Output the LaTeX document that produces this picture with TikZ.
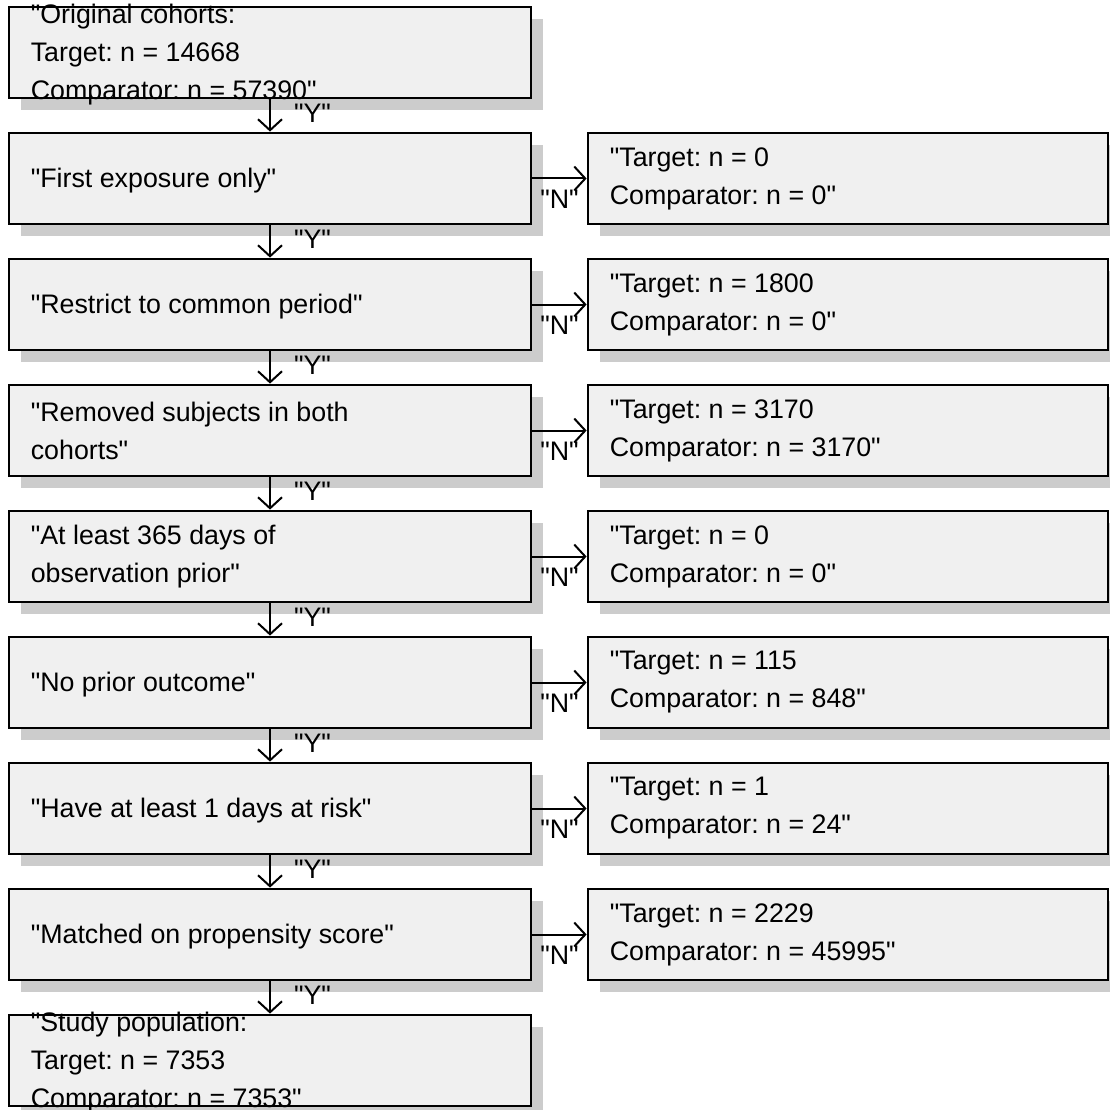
\documentclass[tikz,border=0pt]{standalone}
\usepackage{fontspec}
\setmainfont{Liberation Sans}[Ligatures=TeXOff]
\usetikzlibrary{arrows.meta,shadows}
\definecolor{boxfill}{HTML}{F0F0F0}
\definecolor{shadowgray}{HTML}{CCCCCC}
\tikzset{
  flowbox/.style={draw=black, line width=2.8pt, fill=boxfill, inner sep=0pt,
    minimum height=91pt,
    drop shadow={shadow xshift=12pt, shadow yshift=-12pt, fill=shadowgray, opacity=1}},
  leftbox/.style={flowbox, minimum width=522pt},
  rightbox/.style={flowbox, minimum width=520pt},
  boxtext/.style={anchor=west, align=left, inner sep=0pt,
    font=\fontsize{26.8}{38}\selectfont},
  flowarrow/.style={line width=2pt, -{Straight Barb[length=11pt, width=24pt, line width=2pt]}},
  edgelabel/.style={inner sep=0pt, font=\fontsize{26.8}{30}\selectfont}
}
\begin{document}
\frenchspacing
\begin{tikzpicture}[x=1pt, y=-1pt]
\useasboundingbox (0,0) rectangle (1110,1110);
% left column
\node[leftbox] (L1) at (270, 52.5) {};
\node[leftbox] (L2) at (270, 178.5) {};
\node[leftbox] (L3) at (270, 304.5) {};
\node[leftbox] (L4) at (270, 430.5) {};
\node[leftbox] (L5) at (270, 556.5) {};
\node[leftbox] (L6) at (270, 682.5) {};
\node[leftbox] (L7) at (270, 808.5) {};
\node[leftbox] (L8) at (270, 934.5) {};
\node[leftbox] (L9) at (270, 1060.5) {};
% right column
\node[rightbox] (R2) at (848, 178.5) {};
\node[rightbox] (R3) at (848, 304.5) {};
\node[rightbox] (R4) at (848, 430.5) {};
\node[rightbox] (R5) at (848, 556.5) {};
\node[rightbox] (R6) at (848, 682.5) {};
\node[rightbox] (R7) at (848, 808.5) {};
\node[rightbox] (R8) at (848, 934.5) {};
% texts
\node[boxtext] (TL1) at ([xshift=23pt, yshift=-2.5pt]L1.west) {"Original cohorts:\\Target: n = 14668\\Comparator: n = 57390"};
\node[boxtext] (TL2) at ([xshift=23pt, yshift=-2pt]L2.west) {"First exposure only"};
\node[boxtext] (TL3) at ([xshift=23pt, yshift=-2pt]L3.west) {"Restrict to common period"};
\node[boxtext] (TL4) at ([xshift=23pt]L4.west) {"Removed subjects in both\\cohorts"};
\node[boxtext] (TL5) at ([xshift=23pt]L5.west) {"At least 365 days of\\observation prior"};
\node[boxtext] (TL6) at ([xshift=23pt, yshift=-2pt]L6.west) {"No prior outcome"};
\node[boxtext] (TL7) at ([xshift=23pt, yshift=-2pt]L7.west) {"Have at least 1 days at risk"};
\node[boxtext] (TL8) at ([xshift=23pt, yshift=-2pt]L8.west) {"Matched on propensity score"};
\node[boxtext] (TL9) at ([xshift=23pt, yshift=-2.5pt]L9.west) {"Study population:\\Target: n = 7353\\Comparator: n = 7353"};
\node[boxtext] (TR2) at ([xshift=23pt]R2.west) {"Target: n = 0\\Comparator: n = 0"};
\node[boxtext] (TR3) at ([xshift=23pt]R3.west) {"Target: n = 1800\\Comparator: n = 0"};
\node[boxtext] (TR4) at ([xshift=23pt]R4.west) {"Target: n = 3170\\Comparator: n = 3170"};
\node[boxtext] (TR5) at ([xshift=23pt]R5.west) {"Target: n = 0\\Comparator: n = 0"};
\node[boxtext] (TR6) at ([xshift=23pt]R6.west) {"Target: n = 115\\Comparator: n = 848"};
\node[boxtext] (TR7) at ([xshift=23pt]R7.west) {"Target: n = 1\\Comparator: n = 24"};
\node[boxtext] (TR8) at ([xshift=23pt]R8.west) {"Target: n = 2229\\Comparator: n = 45995"};
% Y arrows
\foreach \a/\b in {L1/L2, L2/L3, L3/L4, L4/L5, L5/L6, L6/L7, L7/L8, L8/L9}{
  \draw[flowarrow] (\a.south) -- (\b.north)
    node[edgelabel, pos=0.43, anchor=west, xshift=23pt] {"Y"};
}
% N arrows
\foreach \a/\b in {L2/R2, L3/R3, L4/R4, L5/R5, L6/R6, L7/R7, L8/R8}{
  \draw[flowarrow] (\a.east) -- (\b.west)
    node[edgelabel, pos=0.5, anchor=center, yshift=-21pt] {"N"};
}
\end{tikzpicture}
\end{document}
